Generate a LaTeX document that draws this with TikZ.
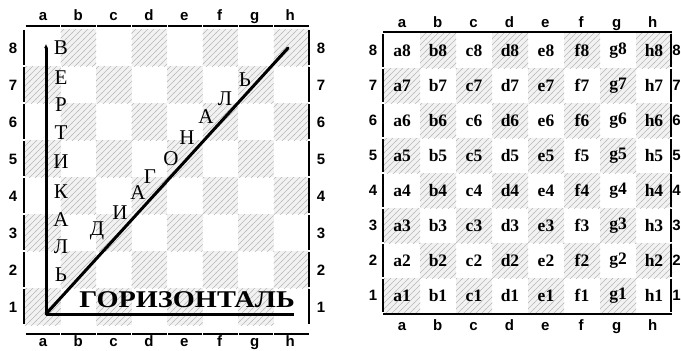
\documentclass[tikz,border=0pt]{standalone}
\usepackage{fontspec}
\setmainfont{Liberation Serif}
\setsansfont{Liberation Sans}
\usetikzlibrary{patterns,arrows.meta,positioning}

\pgfdeclarepatternformonly{widehatch}{\pgfpoint{-1pt}{-1pt}}{\pgfpoint{7pt}{7pt}}{\pgfpoint{6pt}{6pt}}{
  \pgfsetlinewidth{0.6pt}
  \pgfpathmoveto{\pgfpoint{-0.5pt}{-0.5pt}}
  \pgfpathlineto{\pgfpoint{6.5pt}{6.5pt}}
  \pgfusepath{stroke}}

\tikzset{
  darksq/.style={fill=gray!10, postaction={pattern=widehatch, pattern color=gray!55}},
  coordlbl/.style={font=\sffamily\bfseries\fontsize{15}{15}\selectfont, inner sep=0pt},
  filelbl/.style={coordlbl, anchor=base},
  rim/.style={line width=1.4pt},
  bar/.style={line width=2.6pt},
  arrowline/.style={line width=3pt},
  ruword/.style={font=\fontsize{21}{21}\selectfont, inner sep=0pt},
  celltxt/.style={font=\bfseries\fontsize{17.5}{17.5}\selectfont, inner sep=0pt}
}

\begin{document}
\begin{tikzpicture}[x=1pt, y=-1pt, >=Latex]
  \useasboundingbox (0,0) rectangle (681,351);
  % left board
  \foreach \f [count=\i from 0] in {a,...,h}{
    \foreach \r in {1,...,8}{
      \pgfmathtruncatemacro\sqpar{mod(\i+1+\r,2)}
      \ifnum\sqpar=0
        \fill[darksq] ({25+35.5*\i},{29+37*(8-\r)}) rectangle ++(35.5,37);
      \fi
    }
    \node[filelbl] (Lt-\f) at ({43+35.3*\i},20) {\f};
    \node[filelbl] (Lb-\f) at ({43+35.3*\i},346.5) {\f};
    \draw[rim] ({25.5+35.5*\i},26) -- ++(34.5,0);
    \draw[rim] ({25.5+35.5*\i},334) -- ++(34.5,0);
  }
  \foreach \r in {1,...,8}{
    \node[coordlbl] (Ll-\r) at (13,{29+37*(8-\r)+19}) {\r};
    \node[coordlbl] (Lr-\r) at (321,{29+37*(8-\r)+19}) {\r};
    \draw[bar] (24,{29+37*(8-\r)+1}) -- ++(0,35);
    \draw[bar] (309,{29+37*(8-\r)+1}) -- ++(0,35);
  }
  % arrows
  \coordinate (corner) at (46,314);
  \coordinate (vtop) at (46,44);
  \coordinate (htip) at (294,314);
  \coordinate (dtip) at (288,48);
  \draw[arrowline, -{Latex[length=4pt,width=4pt]}] (corner) -- (vtop);
  \draw[arrowline] (corner) -- (htip);
  \draw[arrowline, line cap=round] (corner) -- (dtip);
  \foreach \ch/\y [count=\k] in {В/48,Е/78,Р/105,Т/133,И/162,К/192,А/220,Л/247,Ь/275}
    \node[ruword] (v-\k) at (61,\y) {\ch};
  \foreach \ch/\x/\y [count=\k] in {Д/97/231,И/120/213,А/138/193,Г/150/177,О/171/159,Н/187/138,А/206/117,Л/225/99,Ь/245/80}
    \node[ruword] (d-\k) at (\x,\y) {\ch};
  \node[ruword, font=\bfseries\fontsize{24}{24}\selectfont, xscale=1.18, transform shape] (hword) at (187,300) {ГОРИЗОНТАЛЬ};
  % right board
  \foreach \f [count=\i from 0] in {a,...,h}{
    \foreach \r in {1,...,8}{
      \pgfmathtruncatemacro\sqpar{mod(\i+1+\r,2)}
      \ifnum\sqpar=0
        \fill[darksq] ({384+36*\i},{33+35*(8-\r)}) rectangle ++(36,35);
      \fi
      \node[celltxt] (R-\f\r) at ({402+36*\i},{33+35*(8-\r)+17.5}) {\f\r};
    }
    \node[filelbl] (Rt-\f) at ({402+35.8*\i},27) {\f};
    \node[filelbl] (Rb-\f) at ({402+35.8*\i},330) {\f};
  }
  \draw[rim] (383,32) -- (672,32);
  \draw[rim] (383,314) -- (672,314);
  \foreach \r in {1,...,8}{
    \node[coordlbl] (Rl-\r) at (373,{33+35*(8-\r)+17.5}) {\r};
    \node[coordlbl, anchor=east] (Rr-\r) at (681,{33+35*(8-\r)+17.5}) {\r};
    \draw[bar] (383,{33+35*(8-\r)+1}) -- ++(0,33);
    \draw[bar] (671,{33+35*(8-\r)+1}) -- ++(0,33);
  }
\end{tikzpicture}
\end{document}
